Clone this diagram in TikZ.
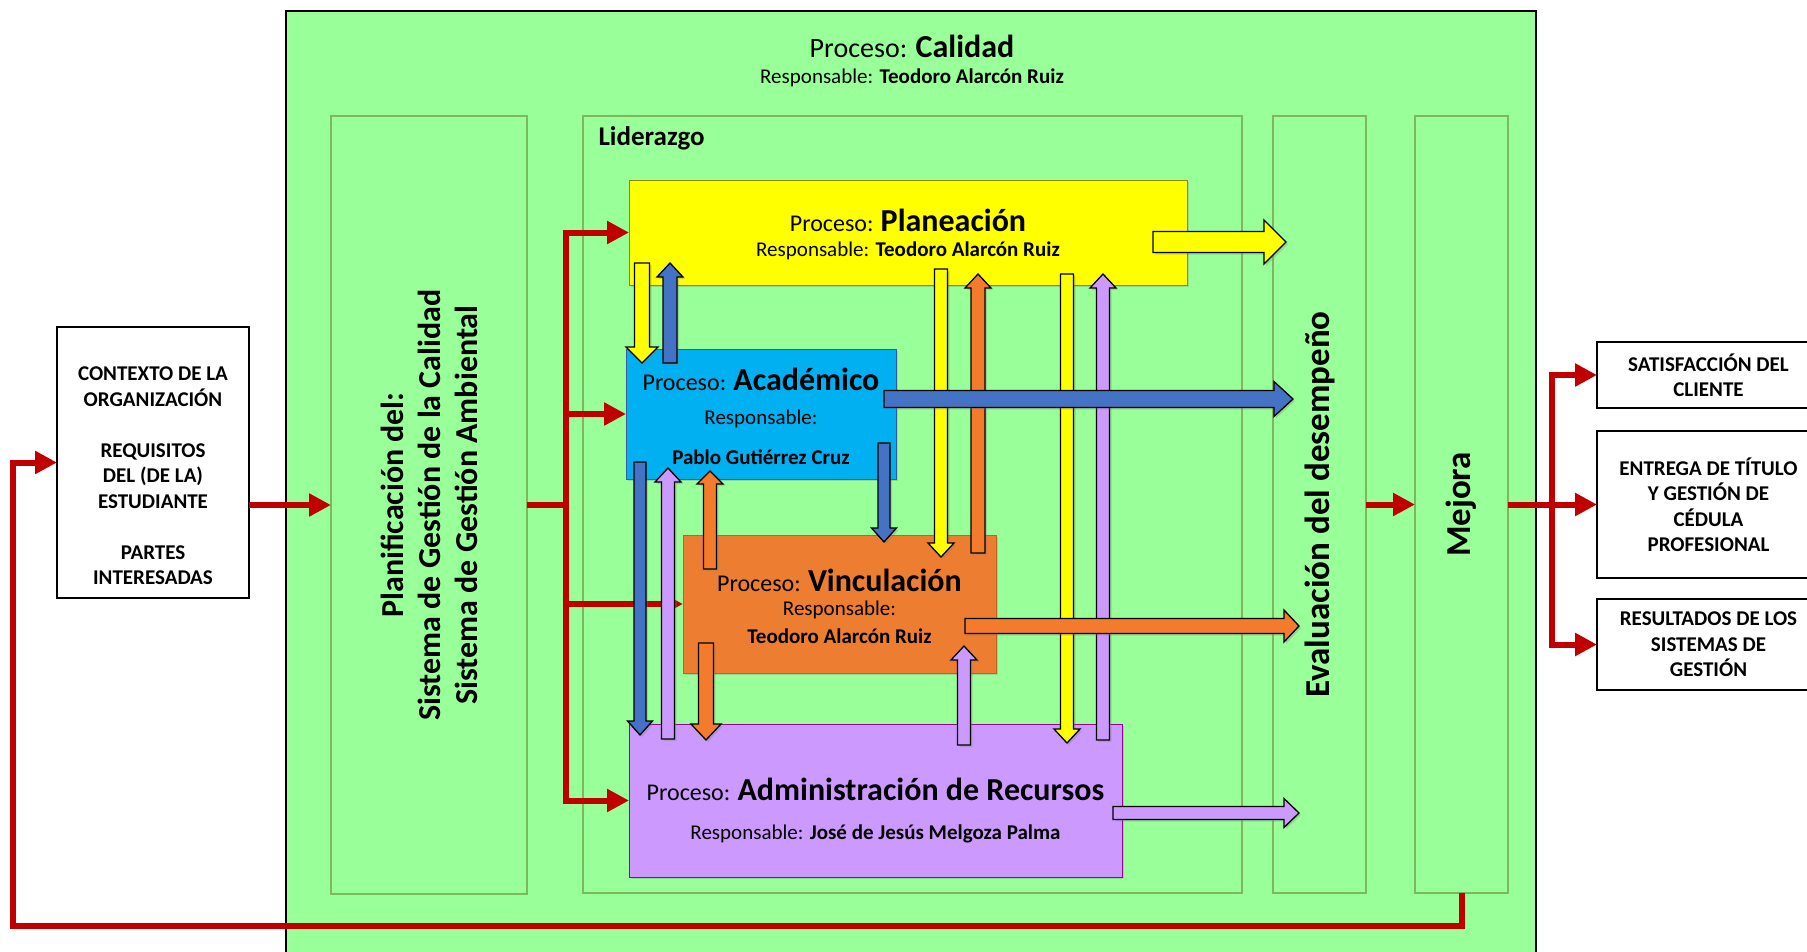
\documentclass[tikz,border=0pt]{standalone}
\usepackage{fontspec}
\setmainfont{Carlito}
\usetikzlibrary{arrows.meta,calc,shadows}

\definecolor{verdefondo}{HTML}{99FF99}
\definecolor{verdeborde}{HTML}{7DB85A}
\definecolor{amarillo}{HTML}{FFFF00}
\definecolor{cian}{HTML}{00B0F0}
\definecolor{naranjacaja}{HTML}{ED7D31}
\definecolor{naranja}{HTML}{F47B2C}
\definecolor{lila}{HTML}{CC99FF}
\definecolor{azul}{HTML}{4472C4}
\definecolor{rojo}{HTML}{C00000}

\newcommand{\procnom}[1]{\fontsize{24}{24}\selectfont Proceso: \textbf{\fontsize{32}{32}\selectfont #1}}
\newcommand{\respon}{\fontsize{21}{21}\selectfont Responsable:}

% flecha de bloque: relleno, inicio, fin, medio ancho, medio ancho punta, largo punta
\newcommand{\flecha}[6]{%
	\coordinate (cuello) at ($(#3)!#6!(#2)$);
	\draw[flecha, fill=#1] ($(#2)!#4!90:(#3)$) -- ($(cuello)!#4!90:(#3)$)
	-- ($(cuello)!#5!90:(#3)$) -- (#3) -- ($(cuello)!#5!-90:(#3)$)
	-- ($(cuello)!#4!-90:(#3)$) -- ($(#2)!#4!-90:(#3)$) -- cycle;
}

\begin{document}
\begin{tikzpicture}[x=1pt,y=-1pt,
	caja/.style={rectangle, inner sep=0pt, outer sep=0pt},
	columna/.style={caja, draw=verdeborde, line width=1.3pt},
	proceso/.style={caja, line width=1pt, drop shadow={opacity=0.3, shadow xshift=2pt, shadow yshift=-2pt}},
	salida/.style={caja, draw, fill=white, line width=1.2pt, align=center, font=\bfseries\fontsize{21}{25.5}\selectfont},
	roja/.style={draw=rojo, line width=6pt},
	punta/.style={-{Triangle[length=22pt,width=22pt]}},
	flecha/.style={draw=black, line width=1.3pt, drop shadow={opacity=0.3, shadow xshift=2pt, shadow yshift=-2pt}}]
	\useasboundingbox (0,0) rectangle (1807,951);

	% proceso calidad
	\node[caja, draw=black, line width=1.5pt, fill=verdefondo, minimum width=1250pt, minimum height=975pt, anchor=north west] (calidad) at (286,11) {};
	\node (cal-t) at (912,46) {\fontsize{28}{28}\selectfont Proceso: \textbf{\fontsize{32}{32}\selectfont Calidad}};
	\node (cal-r) at (912,78) {\respon{} \textbf{Teodoro Alarcón Ruiz}};

	% columnas
	\node[columna, minimum width=196pt, minimum height=778pt] (planif) at (429,505) {};
	\node[columna, minimum width=659pt, minimum height=777pt] (lider) at (912.5,504.5) {};
	\node[columna, minimum width=93pt, minimum height=777pt] (evalua) at (1319.5,504.5) {};
	\node[columna, minimum width=93pt, minimum height=777pt] (mejora) at (1461.5,504.5) {};
	\node[rotate=90, align=center, font=\bfseries\fontsize{32}{37}\selectfont] (planif-t) at (planif) {Planificación del:\\Sistema de Gestión de la Calidad\\Sistema de Gestión Ambiental};
	\node[anchor=west, font=\bfseries\fontsize{27}{27}\selectfont] (lider-t) at (595,138) {Liderazgo};
	\node[rotate=90, font=\bfseries\fontsize{35}{35}\selectfont] (evalua-t) at (evalua) {Evaluación del desempeño};
	\node[rotate=90, font=\bfseries\fontsize{35}{35}\selectfont] (mejora-t) at (mejora) {Mejora};

	% procesos
	\node[proceso, draw=amarillo!55!black, fill=amarillo, minimum width=558pt, minimum height=105pt] (plan) at (908,232.5) {};
	\node (plan-t) at (908,220) {\procnom{Planeación}};
	\node (plan-r) at (908,251) {\respon{} \textbf{Teodoro Alarcón Ruiz}};

	\node[proceso, draw=azul!80!black, fill=cian, minimum width=270pt, minimum height=130pt] (acad) at (761,414) {};
	\node (acad-t) at (761,379) {\procnom{Académico}};
	\node (acad-r) at (761,419) {\respon};
	\node (acad-n) at (761,457) {\fontsize{21}{21}\selectfont\bfseries Pablo Gutiérrez Cruz};

	\node[proceso, draw=naranjacaja!80!black, fill=naranjacaja, minimum width=313pt, minimum height=138pt] (vinc) at (839.5,604) {};
	\node (vinc-t) at (839.5,580) {\procnom{Vinculación}};
	\node (vinc-r) at (839.5,610) {\respon};
	\node (vinc-n) at (839.5,636) {\fontsize{21}{21}\selectfont\bfseries Teodoro Alarcón Ruiz};

	\node[proceso, draw=violet!80!magenta, fill=lila, minimum width=493pt, minimum height=153pt] (admin) at (875.5,800.5) {};
	\node (admin-t) at (875.5,789) {\procnom{Administración de Recursos}};
	\node (admin-r) at (875.5,834) {\respon{} \textbf{José de Jesús Melgoza Palma}};

	% entradas y salidas
	\node[caja, draw, fill=white, line width=1.2pt, minimum width=192pt, minimum height=271pt] (contexto) at (153,462.5) {};
	\node[align=center, font=\bfseries\fontsize{21}{25.5}\selectfont] (contexto-t) at (153,476) {CONTEXTO DE LA\\ORGANIZACIÓN\\[25.5pt]REQUISITOS\\DEL (DE LA)\\ESTUDIANTE\\[25.5pt]PARTES\\INTERESADAS};
	\node[salida, minimum width=223pt, minimum height=66pt] (sat) at (1708.5,375) {SATISFACCIÓN DEL\\CLIENTE};
	\node[salida, minimum width=223pt, minimum height=147pt] (entrega) at (1708.5,504.5) {ENTREGA DE TÍTULO\\Y GESTIÓN DE\\CÉDULA\\PROFESIONAL};
	\node[salida, minimum width=223pt, minimum height=91pt] (result) at (1708.5,644.5) {RESULTADOS DE LOS\\SISTEMAS DE\\GESTIÓN};

	% flujo rojo
	\draw[roja, punta] (contexto.east |- planif.west) -- (planif.west);
	\coordinate (bif) at (566,505);
	\draw[roja] (planif.east) -- (bif);
	\draw[roja, line cap=rect] (bif |- plan.west) -- (bif |- admin.west);
	\foreach \nodo in {plan,acad,vinc,admin}
	{
		\draw[roja, punta] (bif |- \nodo.west) -- (\nodo.west);
	}
	\draw[roja, punta] (evalua.east) -- (mejora.west);
	\coordinate (sal) at (1552,504.5);
	\draw[roja] (mejora.east) -- (sal);
	\draw[roja, line cap=rect] (sal |- sat.west) -- (sal |- result.west);
	\foreach \nodo in {sat,entrega,result}
	{
		\draw[roja, punta] (sal |- \nodo.west) -- (\nodo.west);
	}
	\coordinate (ret) at (13,926);
	\draw[roja, punta] (mejora.south) |- (ret) |- (contexto.west);

	% flechas verticales entre procesos
	\foreach \col/\x/\ini/\fin/\ws/\wh/\lp in {amarillo/642/263/363/7.5/16/16, azul/670/363/263/7/13/14,
		amarillo/941/269/557/6.5/13/14, naranja/978/553/274/7/13/14,
		amarillo/1067/274/743/6.5/13/14, lila/1103/740/274/6.5/13/14,
		azul/884/443/542/6/12.5/14, azul/640/462/735/6/12.5/14,
		lila/668/739/468/6.5/13/14, naranja/710/569/471/6.5/13/13,
		naranja/706/643/740/7.5/15/16, lila/964/745/646/6.5/13/14}
	{
		\coordinate (ini) at (\x,\ini);
		\coordinate (fin) at (\x,\fin);
		\flecha{\col}{ini}{fin}{\ws pt}{\wh pt}{\lp pt}
	}

	% flechas hacia evaluacion
	\foreach \col/\ini/\fin/\y/\ws/\wh/\lp in {amarillo/1153/1286/242/10.5/22/22, azul/884/1293/399/8.5/17.5/19,
		naranja/965/1299/626/7.5/16/15, lila/1113/1299/813/6.5/14.5/15}
	{
		\coordinate (ini) at (\ini,\y);
		\coordinate (fin) at (\fin,\y);
		\flecha{\col}{ini}{fin}{\ws pt}{\wh pt}{\lp pt}
	}
\end{tikzpicture}
\end{document}
